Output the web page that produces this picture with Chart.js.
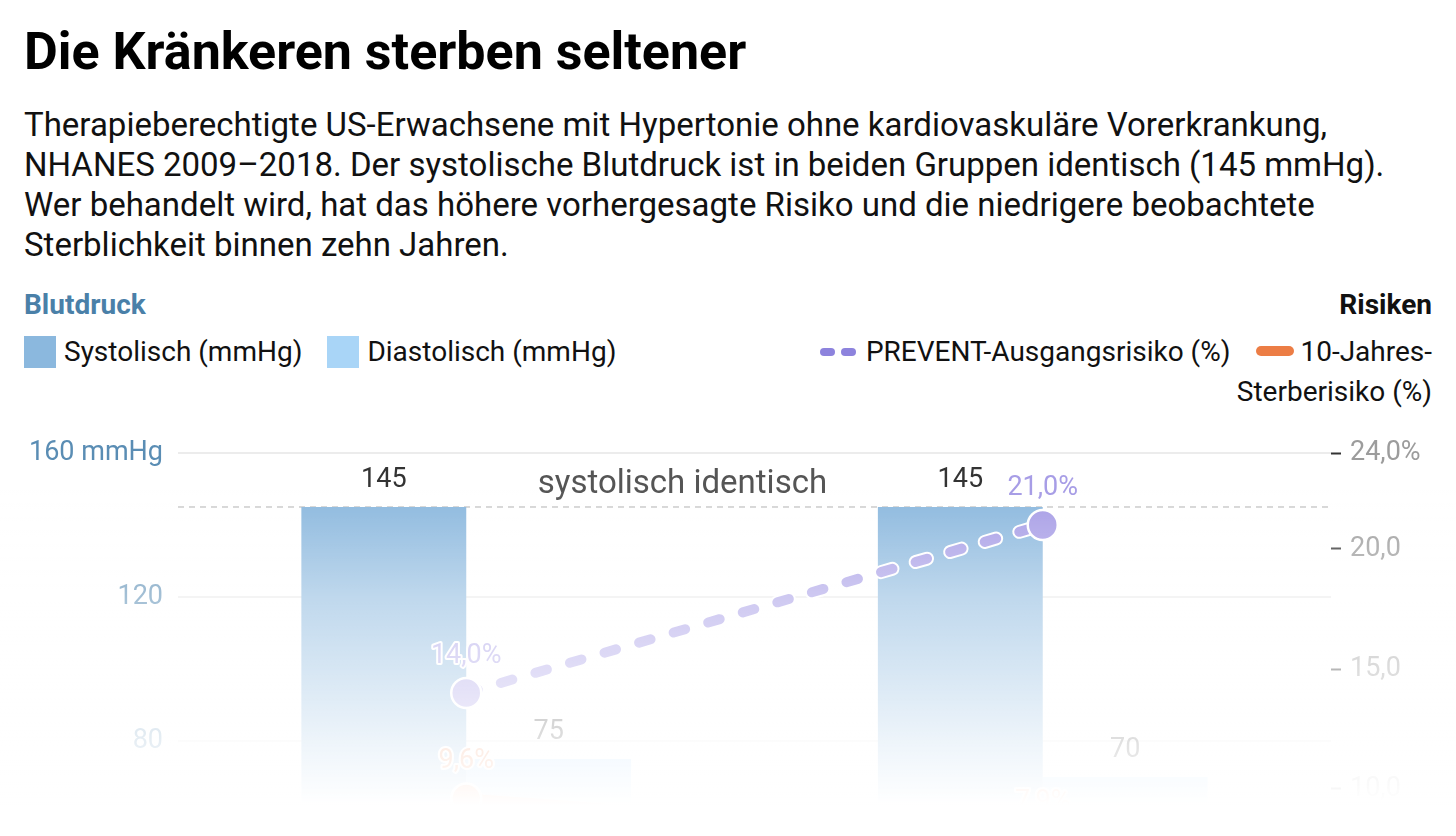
<!DOCTYPE html>
<html lang="de">
<head>
<meta charset="utf-8">
<title>Die Kränkeren sterben seltener</title>
<script src="https://cdn.jsdelivr.net/npm/chart.js@4.4.1/dist/chart.umd.min.js"></script>
<style>
  html, body { margin: 0; padding: 0; background: #fff; }
  body { width: 1456px; height: 836px; overflow: hidden; position: relative; font-family: Roboto, "Noto Sans", sans-serif; color: #111; }
  h1 { position: absolute; left: 24px; top: 22px; margin: 0; font-size: 52px; font-weight: 700; line-height: 60px; color: #000; }
  .sub { position: absolute; left: 24px; top: 105px; margin: 0; font-size: 33px; line-height: 40px; color: #111; white-space: nowrap; }
  .hdr { position: absolute; top: 290px; font-size: 28px; font-weight: 700; line-height: 30px; }
  .legend { position: absolute; font-size: 28px; line-height: 40px; white-space: nowrap; color: #111; }
  .box { display: inline-block; width: 32px; height: 32px; vertical-align: -7px; margin-right: 8px; }
  .pill { display: inline-block; height: 10px; border-radius: 5px; vertical-align: 5px; }
  #wrap { position: absolute; left: 0; top: 420px; width: 1456px; height: 680px; }
  #fade { position: absolute; left: 0; top: 0; width: 1456px; height: 836px; pointer-events: none;
    background: linear-gradient(to bottom, rgba(255,255,255,0) 490px, rgba(255,255,255,0.45) 597px, rgba(255,255,255,0.85) 741px, #fff 805px); }
</style>
</head>
<body>
<h1>Die Kränkeren sterben seltener</h1>
<p class="sub">Therapieberechtigte US-Erwachsene mit Hypertonie ohne kardiovaskuläre Vorerkrankung,<br>NHANES 2009–2018. Der systolische Blutdruck ist in beiden Gruppen identisch (145 mmHg).<br>Wer behandelt wird, hat das höhere vorhergesagte Risiko und die niedrigere beobachtete<br>Sterblichkeit binnen zehn Jahren.</p>

<div class="hdr" style="left:24px;color:#4a80a8;">Blutdruck</div>
<div class="hdr" style="right:24px;color:#111;">Risiken</div>
<div class="legend" id="legLeft" style="left:24px;top:332px;"></div>
<div class="legend" id="legRight" style="right:24px;top:332px;text-align:right;"></div>

<div id="wrap"><canvas id="chart"></canvas></div>
<div id="fade"></div>

<script>
// data
const groups = ['Unbehandelt', 'Behandelt'];
const systolic = [145, 145];
const diastolic = [75, 70];
const preventRisk = [14.0, 21.0];
const mortality = [9.6, 7.9]; // second value hidden below the fade, estimated
const leftTicks = [0, 40, 80, 120, 160];
const rightTicks = [0, 5, 10, 15, 20, 24];
const refLine = 145;
const refText = 'systolisch identisch';

const labels = {
  sys: 'Systolisch (mmHg)',
  dia: 'Diastolisch (mmHg)',
  prev: 'PREVENT-Ausgangsrisiko (%)',
  mort: '10-Jahres-Sterberisiko (%)'
};

const colSys = '#8bb8de';
const colDia = '#a9d5f7';
const colPrev = '#a79de6';
const colPrevKey = '#8d83dd';
const colMort = '#ec7d45';

// html legend
document.getElementById('legLeft').innerHTML =
  '<span class="box" style="background:' + colSys + '"></span>' + labels.sys +
  '<span class="box" style="background:' + colDia + ';margin-left:25px"></span>' + labels.dia;
document.getElementById('legRight').innerHTML =
  '<span class="pill" style="width:15px;height:8px;background:' + colPrevKey + '"></span>' +
  '<span class="pill" style="width:15px;height:8px;margin-left:6px;margin-right:10px;background:' + colPrevKey + '"></span>' + labels.prev +
  '<span class="pill" style="width:38px;margin-left:26px;margin-right:6px;background:' + colMort + '"></span>10-Jahres-<br>Sterberisiko (%)';

function de(v, d) {
  return v.toFixed(d).replace('.', ',');
}

Chart.defaults.font.family = 'Roboto, "Noto Sans", sans-serif';

const labelPlugin = {
  id: 'labelPlugin',
  beforeDatasetsDraw(chart) {
    const { ctx, chartArea, scales } = chart;
    const y = scales.y.getPixelForValue(refLine);
    ctx.save();
    ctx.strokeStyle = '#c9c9c9';
    ctx.lineWidth = 1.5;
    ctx.setLineDash([6, 5]);
    ctx.beginPath();
    ctx.moveTo(chartArea.left, y);
    ctx.lineTo(chartArea.right, y);
    ctx.stroke();
    ctx.setLineDash([]);
    const x0 = scales.x.getPixelForValue(0);
    const x1 = scales.x.getPixelForValue(1);
    ctx.fillStyle = '#555';
    ctx.font = '33px Roboto';
    ctx.textAlign = 'center';
    ctx.textBaseline = 'middle';
    ctx.fillText(refText, (x0 + x1) / 2 - (x1 - x0) * 0.125, y - 22);
    ctx.restore();
  },
  beforeDatasetDraw(chart, args) {
    // white halo under the dashed risk line
    if (args.index !== 2) return;
    const pts = chart.getDatasetMeta(2).data;
    const { ctx } = chart;
    ctx.save();
    ctx.strokeStyle = '#fff';
    ctx.lineWidth = 14;
    ctx.lineCap = 'round';
    ctx.setLineDash([12, 24]);
    ctx.beginPath();
    ctx.moveTo(pts[0].x, pts[0].y);
    for (let i = 1; i < pts.length; i++) ctx.lineTo(pts[i].x, pts[i].y);
    ctx.stroke();
    ctx.restore();
  },
  afterDatasetsDraw(chart) {
    const { ctx } = chart;
    ctx.save();
    ctx.textAlign = 'center';
    ctx.textBaseline = 'middle';
    ctx.font = '27px Roboto';
    ctx.fillStyle = '#333';
    [0, 1].forEach(di => {
      const ds = chart.data.datasets[di];
      chart.getDatasetMeta(di).data.forEach((bar, i) => {
        ctx.fillText(String(ds.data[i]), bar.x, bar.y - 27);
      });
    });
    [[2, colPrev], [3, colMort]].forEach(([di, col]) => {
      const ds = chart.data.datasets[di];
      chart.getDatasetMeta(di).data.forEach((pt, i) => {
        const t = de(ds.data[i], 1) + '%';
        ctx.lineWidth = 4;
        ctx.strokeStyle = '#fff';
        ctx.lineJoin = 'round';
        ctx.strokeText(t, pt.x, pt.y - 37);
        ctx.fillStyle = col;
        ctx.fillText(t, pt.x, pt.y - 37);
      });
    });
    ctx.restore();
  }
};

new Chart(document.getElementById('chart').getContext('2d'), {
  type: 'bar',
  data: {
    labels: groups,
    datasets: [
      {
        label: labels.sys,
        data: systolic,
        backgroundColor: colSys,
        yAxisID: 'y',
        categoryPercentage: 0.572,
        barPercentage: 1.0,
        order: 3
      },
      {
        label: labels.dia,
        data: diastolic,
        backgroundColor: colDia,
        yAxisID: 'y',
        categoryPercentage: 0.572,
        barPercentage: 1.0,
        order: 3
      },
      {
        type: 'line',
        label: labels.prev,
        data: preventRisk,
        yAxisID: 'y1',
        borderColor: colPrev,
        borderWidth: 10,
        borderDash: [12, 24],
        borderCapStyle: 'round',
        pointRadius: 15,
        pointBackgroundColor: colPrev,
        pointBorderColor: '#fff',
        pointBorderWidth: 2.5,
        order: 1
      },
      {
        type: 'line',
        label: labels.mort,
        data: mortality,
        yAxisID: 'y1',
        borderColor: colMort,
        borderWidth: 10,
        borderCapStyle: 'round',
        pointRadius: 15,
        pointBackgroundColor: colMort,
        pointBorderColor: '#fff',
        pointBorderWidth: 2.5,
        order: 2
      }
    ]
  },
  options: {
    responsive: true,
    maintainAspectRatio: false,
    animation: false,
    layout: { padding: { top: 33, left: 24, right: 24, bottom: 21 } },
    plugins: {
      legend: { display: false },
      tooltip: { enabled: false }
    },
    scales: {
      x: {
        grid: { display: false },
        border: { display: false },
        ticks: { font: { size: 27 }, color: '#555' },
        afterFit(scale) { scale.height = 50; }
      },
      y: {
        position: 'left',
        min: 0,
        max: 160,
        afterBuildTicks(scale) { scale.ticks = leftTicks.map(v => ({ value: v })); },
        afterFit(scale) { scale.width = 154; },
        grid: { color: '#ececec', lineWidth: 2, drawTicks: false },
        border: { display: false },
        ticks: {
          padding: 15,
          font: { size: 27 },
          color: '#5a8db4',
          callback: v => v === 160 ? '160 mmHg' : String(v)
        }
      },
      y1: {
        position: 'right',
        min: 0,
        max: 24,
        afterBuildTicks(scale) { scale.ticks = rightTicks.map(v => ({ value: v })); },
        afterFit(scale) { scale.width = 101; },
        grid: { drawOnChartArea: false, drawTicks: true, tickLength: 10, tickColor: '#333', tickWidth: 2 },
        border: { display: false },
        ticks: {
          padding: 9,
          font: { size: 27 },
          color: '#9c9c9c',
          callback: v => v === 24 ? '24,0%' : de(v, 1)
        }
      }
    }
  },
  plugins: [labelPlugin]
});
</script>
</body>
</html>
